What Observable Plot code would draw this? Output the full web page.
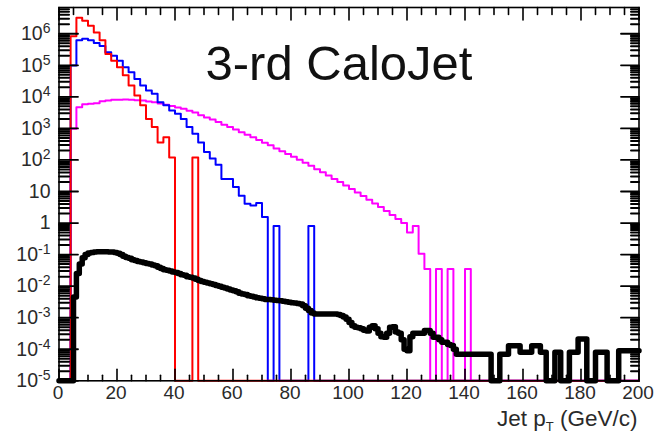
<!DOCTYPE html>
<html><head><meta charset="utf-8">
<script src="https://cdn.jsdelivr.net/npm/d3@7"></script>
<script src="https://cdn.jsdelivr.net/npm/@observablehq/plot@0.6"></script>
<style>
body{margin:0;background:#fff}
svg{font-family:"Liberation Sans",Arial,sans-serif}
</style>
</head><body><div id="chart"></div>
<script>
// ---- data (bin contents, 2 GeV bins for coloured, 1 GeV bins for black) ----
const title = "3-rd CaloJet";
const xTitle = "Jet pT (GeV/c)";
const xTickLabels = [0, 20, 40, 60, 80, 100, 120, 140, 160, 180, 200];
const yDecades = [-5, -4, -3, -2, -1, 0, 1, 2, 3, 4, 5, 6];

const redFrom = 4, redWidth = 2;
const redCounts = [8.3e5, 3.2e6, 2.6e6, 1.8e6, 1.1e6, 6.2e5, 2.3e5, 1.4e5, 8.7e4, 4.8e4,
  2.3e4, 1.1e4, 5.4e3, 2.0e3, 1.1e3, 360, 520, 120, 0, 0, 0, 120];

const blueFrom = 4, blueWidth = 2;
const blueCounts = [9.8e4, 6.2e5, 6.9e5, 6.2e5, 5.1e5, 4.1e5, 2.6e5, 2.0e5, 1.4e5, 8.7e4,
  6.0e4, 3.7e4, 2.3e4, 1.6e4, 1.25e4, 6.8e3, 5.4e3, 3.7e3, 2.9e3, 2.0e3,
  1.1e3, 680, 360, 180, 112, 71, 25, 25, 14, 7.4,
  4.1, 3.6, 4.3, 1.55, 0, 0.8, 0, 0, 0, 0, 0, 0.8];

const magFrom = 4, magWidth = 2;
const magCounts = [980, 4.7e3, 5.8e3, 6.0e3, 6.3e3, 7.2e3, 7.6e3, 8.1e3, 8.1e3, 8.3e3,
  8.1e3, 7.8e3, 7.6e3, 7.1e3, 6.8e3, 6.2e3, 5.6e3, 5.1e3, 4.6e3, 4.2e3,
  3.6e3, 3.2e3, 2.6e3, 2.2e3, 1.9e3, 1.6e3, 1.3e3, 1.1e3, 930, 760,
  630, 520, 430, 350, 290, 230, 190, 155, 126, 102,
  81, 65, 51, 41, 32, 25, 20, 15.5, 12, 9.3,
  7.2, 5.5, 4.2, 3.2, 2.4, 1.8, 1.35, 1.0, 0.5, 0.8,
  0.107, 0.035, 0, 0.035, 0, 0.035, 0, 0, 0.035];

const blackFrom = 5, blackWidth = 1;
const blackCounts = [
  4.5e-3, 2.5e-2, 5.0e-2, 7.9e-2, 0.100, 0.112, 0.117, 0.120, 0.123, 0.123,
  0.123, 0.123, 0.120, 0.120, 0.117, 0.110, 0.100, 0.089, 0.081, 0.076,
  0.069, 0.065, 0.060, 0.058, 0.055, 0.052, 0.050, 0.047, 0.044, 0.040,
  0.036, 0.033, 0.032, 0.030, 0.028, 0.027, 0.025, 0.023, 0.022, 0.020,
  0.019, 0.018, 0.0166, 0.0151, 0.0141, 0.0132, 0.0126, 0.0120, 0.0112, 0.0105,
  0.0100, 0.0093, 0.0087, 0.0081, 0.0076, 0.0071, 0.0066, 0.0060, 0.0056, 0.0054,
  0.0050, 0.0048, 0.0045, 0.0043, 0.0041, 0.0040, 0.0038, 0.0038, 0.0037, 0.0036,
  0.0035, 0.00347, 0.0033, 0.0032, 0.0031, 0.0030, 0.0029, 0.0028, 0.0027, 0.0024,
  0.0020, 0.0017, 0.0014, 0.0013, 0.0013, 0.0013, 0.0013, 0.0013, 0.0013, 0.0013,
  0.0013, 0.00126, 0.00117, 0.00105, 0.00089, 0.00071, 0.00056, 0.00050, 0.00048, 0.00045,
  0.00040, 0.00038, 0.00050, 0.00056, 0.00045, 0.00032, 0.00025, 0.00024, 0.00032, 0.00050,
  0.00052, 0.00035, 0.00032, 0.00020, 0.00010, 0.000089, 0.00025, 0.00032, 0.00032, 0.00032,
  0.00032, 0.00039, 0.00039, 0.00032, 0.00024, 0.00024, 0.00020, 0.000166, 0.000166, 0.000141,
  0.000132, 0.00010, 7e-5, 7e-5, 7e-5, 7e-5, 7e-5, 7e-5, 7e-5, 7e-5,
  7e-5, 7e-5, 7e-5, 7e-5, 0, 0, 0, 7e-5, 7e-5, 7e-5,
  1.3e-4, 1.3e-4, 1.3e-4, 1.3e-4, 8e-5, 8e-5, 8e-5, 8e-5, 1.3e-4, 1.3e-4,
  1.3e-4, 8e-5, 8e-5, 0, 0, 0, 8e-5, 8e-5, 0, 0,
  0, 8e-5, 8e-5, 8e-5, 2.1e-4, 2.1e-4, 2.1e-4, 0, 0, 0,
  8e-5, 8e-5, 8e-5, 8e-5, 0, 0, 0, 0, 9e-5, 9e-5,
  9e-5, 9e-5, 9e-5, 9e-5, 9e-5];

// ---- helpers ----
const yMin = 1e-5, yMax = 6.8e6, xMax = 200;
function steps(from, width, counts, name) {
  const pts = [];
  const n = Math.round(xMax / width);
  for (let i = 0; i < n; i++) {
    const x0 = i * width;
    const j = Math.round((x0 - from) / width);
    const c = (j >= 0 && j < counts.length) ? counts[j] : 0;
    const v = c > 0 ? Math.max(c, yMin) : yMin;
    pts.push({x: x0, y: v, s: name}, {x: x0 + width, y: v, s: name});
  }
  return pts;
}
const red = steps(redFrom, redWidth, redCounts, "red");
const blue = steps(blueFrom, blueWidth, blueCounts, "blue");
const mag = steps(magFrom, magWidth, magCounts, "magenta");
const black = steps(blackFrom, blackWidth, blackCounts, "black");

const yMajor = yDecades.map(e => 10 ** e);
const yMinor = [];
for (const e of yDecades) for (let k = 2; k <= 9; k++) { const v = k * 10 ** e; if (v <= yMax) yMinor.push(v); }
const xMinor = d3.range(0, 201, 5).filter(v => v % 20 !== 0);

const line = {draw(ctx, l) { ctx.moveTo(0, 0); ctx.lineTo(0, -l); }};
const tick = (data, accessor, anchor, rot, len, sw) =>
  Plot.vector(data, {[accessor]: d => d, frameAnchor: anchor, rotate: rot, length: len,
    anchor: "start", shape: line, stroke: "black", strokeWidth: sw});

const labelFmt = v => { const e = Math.round(Math.log10(v)); return e === 0 ? "1" : e === 1 ? "10" : "10^" + e; };

const chart = Plot.plot({
  width: 655, height: 436,
  marginLeft: 58.5, marginRight: 16.5, marginTop: 7, marginBottom: 55.7,
  style: {background: "white", fontFamily: "'Liberation Sans', Arial, sans-serif"},
  x: {domain: [0, xMax], axis: null},
  y: {type: "log", domain: [yMin, yMax], axis: null},
  marks: [
    Plot.line(mag, {x: "x", y: "y", stroke: "#ff00ff", strokeWidth: 2}),
    Plot.line(blue, {x: "x", y: "y", stroke: "#0000ff", strokeWidth: 2}),
    Plot.line(red, {x: "x", y: "y", stroke: "#ff0000", strokeWidth: 2}),
    Plot.line(black, {x: "x", y: "y", stroke: "black", strokeWidth: 5.5, strokeLinejoin: "round"}),
    // ticks
    tick(yMinor, "y", "left", 90, 10, 2),
    tick(yMajor, "y", "left", 90, 19, 1.8),
    tick(yMinor, "y", "right", -90, 8, 2),
    tick(yMajor, "y", "right", -90, 18, 1.8),
    tick(xMinor, "x", "bottom", 0, 5.5, 1.6),
    tick(xTickLabels, "x", "bottom", 0, 11.5, 1.6),
    tick(xMinor, "x", "top", 180, 7, 1.6),
    tick(xTickLabels, "x", "top", 180, 12.5, 1.6),
    Plot.frame({stroke: "black", strokeWidth: 1.6}),
    // labels
    Plot.text(xTickLabels, {x: d => d, frameAnchor: "bottom", dx: -1, dy: 5, lineAnchor: "top", text: d => String(d), fontSize: 19, fill: "#2a2a2a"}),
    Plot.text(yMajor, {y: d => d, frameAnchor: "left", dx: -8.5, textAnchor: "end", lineAnchor: "middle", text: labelFmt, fontSize: 19.5, fill: "#2a2a2a"}),
    Plot.text([title], {frameAnchor: "top-left", dx: 146.5, dy: 57, textAnchor: "start", lineAnchor: "middle", text: d => d, fontSize: 49, fill: "#111"}),
    Plot.text([xTitle], {frameAnchor: "bottom-right", dx: -1.5, dy: 37.5, textAnchor: "end", lineAnchor: "middle", text: d => d, fontSize: 22.5, fill: "#2a2a2a"})
  ]
});

// superscripts / subscripts as real text
chart.querySelectorAll("text").forEach(t => {
  const s = t.textContent;
  if (/^10\^/.test(s)) {
    const exp = s.slice(3);
    t.innerHTML = `10<tspan dy="-7" font-size="14">${exp}</tspan>`;
  } else if (s === xTitle) {
    t.innerHTML = `Jet p<tspan dy="6" font-size="13">T</tspan><tspan dy="-6"> (GeV/c)</tspan>`;
  }
});
document.getElementById("chart").appendChild(chart);
</script></body></html>
